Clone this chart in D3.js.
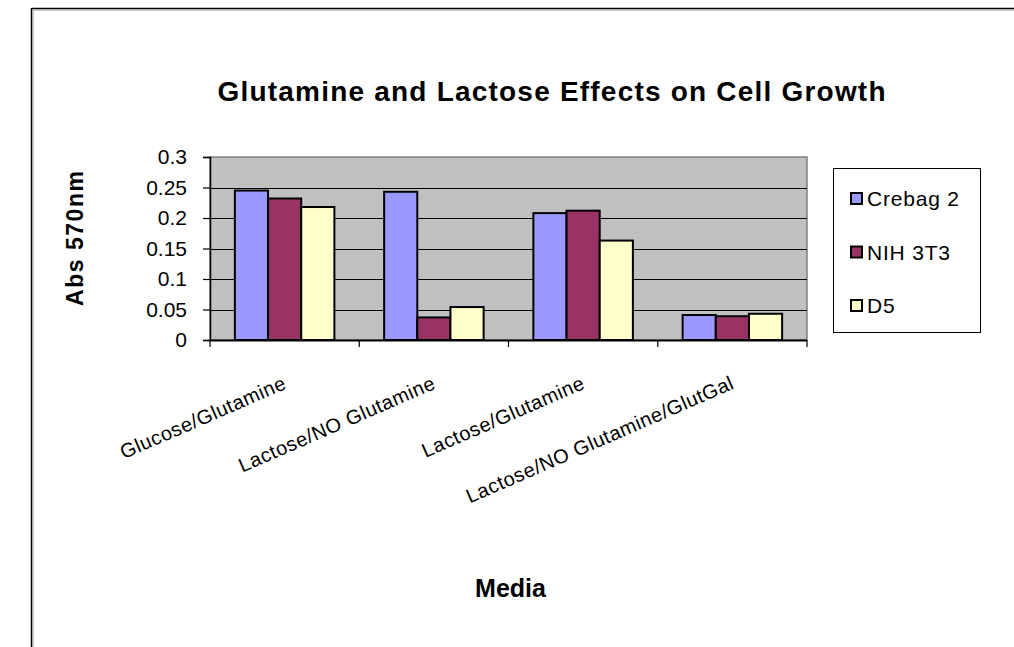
<!DOCTYPE html>
<html>
<head>
<meta charset="utf-8">
<script src="https://cdn.jsdelivr.net/npm/d3@7"></script>
<style>
  html, body { margin: 0; padding: 0; background: #fff; }
  svg { display: block; font-family: Arial, "Liberation Sans", sans-serif; }
</style>
</head>
<body>
<svg id="chart" width="1014" height="647"></svg>
<script>
// ---- data ----
const categories = ["Glucose/Glutamine", "Lactose/NO Glutamine", "Lactose/Glutamine", "Lactose/NO Glutamine/GlutGal"];
const seriesNames = ["Crebag 2", "NIH 3T3", "D5"];
const crebag2 = [0.245, 0.243, 0.208, 0.041];
const nih3t3 = [0.232, 0.037, 0.212, 0.039];
const d5 = [0.218, 0.054, 0.163, 0.043];
const yTickValues = [0, 0.05, 0.1, 0.15, 0.2, 0.25, 0.3];
const seriesColors = ["#9999ff", "#993366", "#ffffcc"];
const titleText = "Glutamine and Lactose Effects on Cell Growth";
const yTitle = "Abs 570nm";
const xTitle = "Media";

const seriesValues = [crebag2, nih3t3, d5];

const svg = d3.select("#chart");

// outer frame (partial, as in screenshot)
svg.append("line").attr("x1", 32).attr("y1", 8.5).attr("x2", 1014).attr("y2", 8.5)
  .attr("stroke", "#000").attr("stroke-width", 1.5);
svg.append("line").attr("x1", 33).attr("y1", 10).attr("x2", 1014).attr("y2", 10)
  .attr("stroke", "#999").attr("stroke-width", 1);
svg.append("line").attr("x1", 31.5).attr("y1", 8).attr("x2", 31.5).attr("y2", 647)
  .attr("stroke", "#000").attr("stroke-width", 1.5);
svg.append("line").attr("x1", 33).attr("y1", 10).attr("x2", 33).attr("y2", 647)
  .attr("stroke", "#999").attr("stroke-width", 1);

// plot geometry
const plotL = 210, plotR = 807, plotT = 157, plotB = 340;

const x = d3.scaleBand().domain(categories).range([plotL, plotR]).paddingInner(0).paddingOuter(0);
const bw = x.bandwidth() / 4.5;
const xs = d3.scaleBand().domain(seriesNames).range([0.75 * bw, 3.75 * bw]).padding(0);
const y = d3.scaleLinear().domain([0, 0.3]).range([plotB, plotT]);

// plot background
svg.append("rect").attr("x", plotL).attr("y", plotT).attr("width", plotR - plotL).attr("height", plotB - plotT)
  .attr("fill", "#c0c0c0").attr("stroke", "#808080").attr("stroke-width", 1.5);

// gridlines
svg.append("g").selectAll("line").data(yTickValues.filter(v => v > 0 && v < 0.3)).join("line")
  .attr("x1", plotL).attr("x2", plotR)
  .attr("y1", d => Math.round(y(d)) + 0.5).attr("y2", d => Math.round(y(d)) + 0.5)
  .attr("stroke", "#000").attr("stroke-width", 1);

// bars
const groups = svg.append("g").selectAll("g").data(categories).join("g")
  .attr("transform", d => `translate(${x(d)},0)`);
groups.selectAll("rect").data((c, ci) => seriesNames.map((s, si) => ({ s, si, v: seriesValues[si][ci] })))
  .join("rect")
  .attr("x", d => xs(d.s))
  .attr("width", xs.bandwidth())
  .attr("y", d => y(d.v))
  .attr("height", d => y(0) - y(d.v))
  .attr("fill", d => seriesColors[d.si])
  .attr("stroke", "#000").attr("stroke-width", 2);

// y axis
const yAxis = d3.axisLeft(y).tickValues(yTickValues).tickSize(7).tickPadding(16)
  .tickFormat(d => String(+d.toFixed(2)));
const gy = svg.append("g").attr("transform", `translate(${plotL},0)`).call(yAxis);
gy.select(".domain").attr("stroke", "#000").attr("stroke-width", 1.5);
gy.selectAll(".tick line").attr("stroke", "#000").attr("stroke-width", 1.2);
gy.selectAll(".tick text").attr("font-size", 21).attr("fill", "#000")
  .attr("font-family", "Arial, 'Liberation Sans', sans-serif");

// x axis (ticks at category boundaries)
const gx = svg.append("g").attr("transform", `translate(0,${plotB})`);
gx.append("line").attr("x1", plotL).attr("x2", plotR).attr("y1", 0.5).attr("y2", 0.5)
  .attr("stroke", "#000").attr("stroke-width", 2);
const boundaries = categories.map(c => x(c)).concat([x(categories[categories.length - 1]) + x.bandwidth()]);
gx.selectAll("line.tk").data(boundaries).join("line").attr("class", "tk")
  .attr("x1", d => d).attr("x2", d => d).attr("y1", 0).attr("y2", 7)
  .attr("stroke", "#000").attr("stroke-width", 1.2);

// category labels, rotated
svg.append("g").selectAll("text").data(categories).join("text")
  .attr("transform", d => `translate(${x(d) + x.bandwidth() / 2 + 3},388) rotate(-23.5)`)
  .attr("text-anchor", "end")
  .attr("font-size", 20)
  .attr("letter-spacing", 0.5)
  .attr("fill", "#000")
  .text(d => d);

// title
svg.append("text").attr("x", 551.5).attr("y", 101).attr("text-anchor", "middle")
  .attr("font-size", 28).attr("font-weight", "bold")
  .attr("textLength", 668).attr("lengthAdjust", "spacing")
  .text(titleText);

// y title
svg.append("text").attr("transform", "translate(83,238.5) rotate(-90)").attr("text-anchor", "middle")
  .attr("font-size", 23).attr("font-weight", "bold")
  .attr("textLength", 135).attr("lengthAdjust", "spacing")
  .text(yTitle);

// x title
svg.append("text").attr("x", 510.5).attr("y", 597).attr("text-anchor", "middle")
  .attr("font-size", 25).attr("font-weight", "bold")
  .text(xTitle);

// legend
const lg = svg.append("g");
lg.append("rect").attr("x", 833.5).attr("y", 168.5).attr("width", 147).attr("height", 164)
  .attr("fill", "#fff").attr("stroke", "#000").attr("stroke-width", 1);
const rowY = d3.scalePoint().domain(seriesNames).range([198, 305]);
const items = lg.selectAll("g").data(seriesNames).join("g")
  .attr("transform", d => `translate(0,${rowY(d)})`);
items.append("rect").attr("x", 851).attr("y", -5).attr("width", 11).attr("height", 11)
  .attr("fill", (d, i) => seriesColors[i]).attr("stroke", "#000").attr("stroke-width", 2);
items.append("text").attr("x", 867).attr("y", 8).attr("font-size", 21).attr("letter-spacing", 0.8)
  .attr("fill", "#000").text(d => d);
</script>
</body>
</html>
